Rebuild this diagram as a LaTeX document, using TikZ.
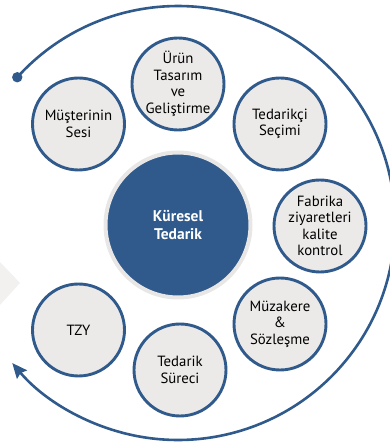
\documentclass[tikz,border=0pt]{standalone}
\usepackage{fontspec}
\setmainfont{PT Sans}
\usetikzlibrary{arrows.meta}
\definecolor{cblue}{HTML}{2F5A8B}
\definecolor{cgray}{HTML}{ECEAE9}
\definecolor{chalo}{HTML}{E8E7E6}
\definecolor{cchev}{HTML}{F2F1F0}
\tikzset{
  stepcircle/.style={circle, draw=cblue, line width=2.9pt, fill=cgray, minimum size=92pt, inner sep=0pt, align=center, text=black, font=\fontsize{14.8}{16.5}\selectfont},
  hubcircle/.style={circle, fill=cblue, draw=chalo, line width=4pt, minimum size=145pt, inner sep=0pt, align=center, text=white, font=\bfseries\fontsize{15.5}{17.5}\selectfont},
  cycleline/.style={draw=cblue, line width=2.6pt}
}
\begin{document}
\begin{tikzpicture}[x=1pt,y=1pt]
\useasboundingbox (0,0) rectangle (390,445);
% left chevron tip
\fill[cchev] (0,183) -- (20,162) -- (0,140) -- cycle;
% big cycle arc
\coordinate (arcc) at (178,222);
\path (arcc) ++(137.8:217) coordinate (s);
\draw[cycleline, -{Stealth[length=15pt,width=13pt,inset=2pt]}] (s) arc[start angle=137.8, end angle=-139.8, radius=217];
\fill[cblue] (s) circle (5.2pt);
% hub
\node[hubcircle] (hub) at (178,220) {Küresel\\Tedarik};
% steps
\node[stepcircle] (urun) at (178,361) {Ürün\\Tasarım\\ve\\Geliştirme};
\node[stepcircle] (tedarikci) at (280,321) {Tedarikçi\\Seçimi};
\node[stepcircle] (fabrika) at (320,219) {Fabrika\\ziyaretleri\\kalite\\kontrol};
\node[stepcircle] (muzakere) at (280,121) {Müzakere\\\&\\Sözleşme};
\node[stepcircle] (surec) at (180,75) {Tedarik\\Süreci};
\node[stepcircle] (tzy) at (78.5,115) {TZY};
\node[stepcircle] (musteri) at (78.5,321) {Müşterinin\\Sesi};
\end{tikzpicture}
\end{document}
